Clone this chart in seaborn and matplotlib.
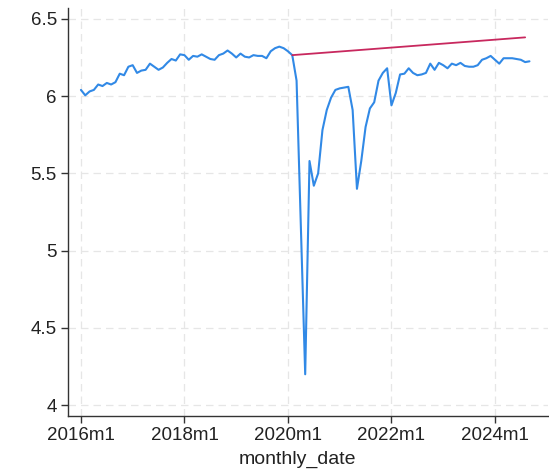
import numpy as np
import pandas as pd
import matplotlib
matplotlib.use("Agg")
import matplotlib.pyplot as plt
import seaborn as sns

# =========================== DATA ===========================
start_year = 2016
# observed series, monthly from 2016m1 to 2024m9
observed = [
    6.04, 6.005, 6.03, 6.04, 6.075, 6.065, 6.085, 6.075, 6.09, 6.145,
    6.135, 6.19, 6.20, 6.15, 6.165, 6.17, 6.21, 6.19, 6.17, 6.185,
    6.215, 6.24, 6.23, 6.27, 6.265, 6.235, 6.26, 6.255, 6.27, 6.255,
    6.24, 6.235, 6.265, 6.275, 6.295, 6.275, 6.25, 6.275, 6.255, 6.25,
    6.265, 6.26, 6.26, 6.245, 6.29, 6.31, 6.32, 6.31, 6.29, 6.265,
    6.10, 5.15, 4.20, 5.58, 5.42, 5.50, 5.78, 5.91, 5.99, 6.04,
    6.05, 6.055, 6.06, 5.91, 5.40, 5.58, 5.80, 5.92, 5.96, 6.10,
    6.15, 6.18, 5.94, 6.02, 6.14, 6.145, 6.18, 6.15, 6.135, 6.14,
    6.15, 6.21, 6.17, 6.215, 6.20, 6.18, 6.21, 6.20, 6.215, 6.195,
    6.19, 6.19, 6.20, 6.235, 6.245, 6.26, 6.235, 6.21, 6.245, 6.245,
    6.245, 6.24, 6.235, 6.22, 6.225,
]
# trend line (months since 2016m1, value)
trend_month = [49, 58, 81, 103]
trend_value = [6.265, 6.284, 6.333, 6.38]

tick_months = [0, 24, 48, 72, 96]
tick_labels = ["2016m1", "2018m1", "2020m1", "2022m1", "2024m1"]
y_ticks = [4, 4.5, 5, 5.5, 6, 6.5]
y_labels = ["4", "4.5", "5", "5.5", "6", "6.5"]

df_obs = pd.DataFrame({"month": np.arange(len(observed)), "value": observed})
df_trend = pd.DataFrame({"month": trend_month, "value": trend_value})

# =========================== PLOT ===========================
sns.set_style("white")
plt.rcParams['font.family'] = ['Liberation Sans', 'DejaVu Sans']

W, H = 549, 470
fig = plt.figure(figsize=(W / 100, H / 100), dpi=100)
ax = fig.add_axes([68 / W, (H - 416) / H, (548 - 68) / W, (416 - 8) / H])

sns.lineplot(data=df_obs, x="month", y="value", ax=ax, color="#3189e6", linewidth=1.5)
sns.lineplot(data=df_trend, x="month", y="value", ax=ax, color="#c8285e", linewidth=1.3)

ax.set_xlim(-3.0, 108.3)
ax.set_ylim(3.93, 6.57)

ax.set_xticks(tick_months)
ax.set_xticklabels(tick_labels, fontsize=13.5, color="#222222")
ax.set_yticks(y_ticks)
ax.set_yticklabels(y_labels, fontsize=13.5, color="#222222")
ax.set_xlabel("monthly_date", fontsize=14, color="#222222", labelpad=3)
ax.xaxis.set_label_coords((297 - 68) / 480, -0.085)
ax.set_ylabel("")

ax.grid(True, color="#e6e6e6", linestyle=(0, (6, 4)), linewidth=0.9)
ax.set_axisbelow(True)

for side in ["top", "right"]:
    ax.spines[side].set_visible(False)
for side in ["left", "bottom"]:
    ax.spines[side].set_color("#333333")
    ax.spines[side].set_linewidth(1.0)

ax.tick_params(axis="both", direction="out", length=5, width=1.0, color="#333333", pad=3)
ax.tick_params(axis="x", bottom=True)
ax.tick_params(axis="y", left=True)

fig.savefig("out.png", dpi=100)
